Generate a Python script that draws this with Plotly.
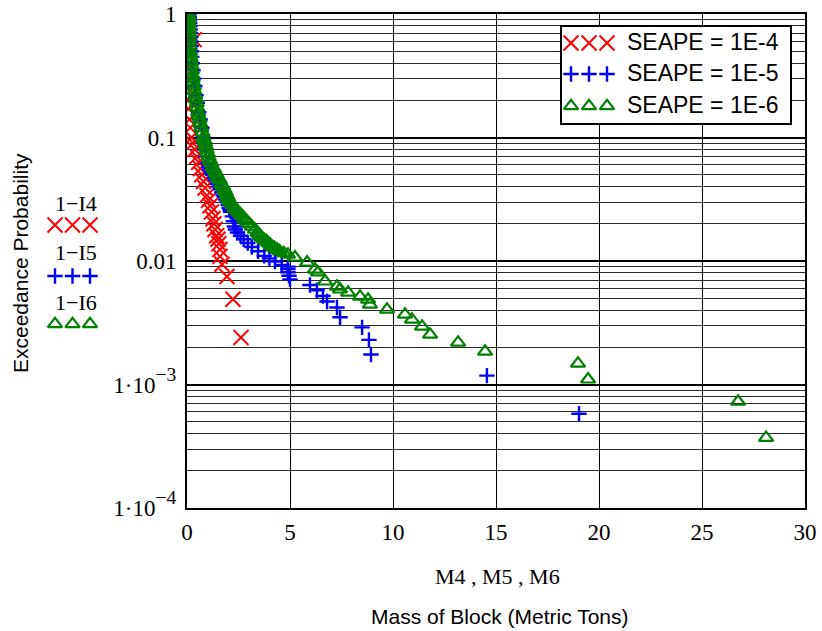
import plotly.graph_objects as go

# ---------------- data ----------------
# SEAPE = 1E-4  (red x)
m4 = [0.05, 0.07, 0.09, 0.11, 0.13, 0.35, 0.12, 0.10, 0.08, 0.06,
      0.05, 0.06, 0.08, 0.12, 0.16, 0.22, 0.29, 0.38, 0.48, 0.57,
      0.65, 0.72, 0.80, 0.88, 0.97, 1.05, 1.12, 1.19, 1.26, 1.31,
      1.36, 1.44, 1.50, 1.55, 1.60, 1.60, 1.70, 1.94, 2.23, 2.62]
p4 = [1.0, 0.9, 0.8, 0.7, 0.62, 0.62, 0.55, 0.45, 0.37, 0.3,
      0.25, 0.2, 0.17, 0.14, 0.12, 0.1, 0.09, 0.08, 0.07, 0.063,
      0.056, 0.05, 0.044, 0.039, 0.034, 0.031, 0.028, 0.025, 0.022, 0.020,
      0.018, 0.016, 0.015, 0.0138, 0.0124, 0.0109, 0.0094, 0.0075, 0.0049, 0.0024]

# SEAPE = 1E-5  (blue +)
m5 = [0.10, 0.11, 0.12, 0.13, 0.14, 0.155, 0.17, 0.18, 0.19, 0.20,
      0.21, 0.23, 0.26, 0.29, 0.33, 0.38, 0.44, 0.50, 0.57, 0.64,
      0.72, 0.78, 0.82, 0.87, 0.93, 1.00, 1.05, 1.10, 1.17, 1.25,
      1.32, 1.40, 1.48, 1.55, 1.62, 1.70, 1.76, 1.82, 1.88, 1.95,
      2.00, 2.05, 2.09, 2.12, 2.20, 2.25, 2.30, 2.35, 2.45, 2.60,
      2.75, 2.95, 3.15, 3.45, 3.75, 4.00, 4.27, 4.60, 4.90, 4.90,
      4.90, 4.95, 5.00, 5.97, 6.31, 6.60, 6.80, 7.28, 7.43, 8.50,
      8.83, 8.93, 14.56, 19.03]
p5 = [1.0, 0.95, 0.9, 0.85, 0.8, 0.75, 0.7, 0.65, 0.6, 0.55,
      0.5, 0.45, 0.4, 0.35, 0.3, 0.26, 0.22, 0.19, 0.16, 0.14,
      0.12, 0.1, 0.09, 0.08, 0.07, 0.062, 0.058, 0.055, 0.052, 0.05,
      0.047, 0.045, 0.042, 0.04, 0.038, 0.036, 0.034, 0.033, 0.0315, 0.03,
      0.0285, 0.027, 0.026, 0.025, 0.023, 0.021, 0.019, 0.018, 0.017, 0.016,
      0.015, 0.014, 0.013, 0.012, 0.011, 0.0105, 0.0099, 0.0093, 0.0090, 0.0086,
      0.0081, 0.0076, 0.0071, 0.0064, 0.0058, 0.0052, 0.0047, 0.0042, 0.0035, 0.0029,
      0.0023, 0.00175, 0.00118, 0.00058]

# SEAPE = 1E-6  (green triangles)
m6 = [0.05, 0.06, 0.07, 0.08, 0.09, 0.10, 0.11, 0.115, 0.12, 0.135,
      0.15, 0.165, 0.18, 0.20, 0.22, 0.24, 0.265, 0.28, 0.30, 0.33,
      0.36, 0.40, 0.43, 0.47, 0.50, 0.54, 0.57, 0.61, 0.65, 0.70,
      0.75, 0.80, 0.84, 0.88, 0.92, 0.96, 1.00, 1.05, 1.11, 1.18,
      1.25, 1.33, 1.39, 1.45, 1.52, 1.60, 1.68, 1.75, 1.82, 1.89,
      1.94, 1.98, 2.03, 2.09, 2.20, 2.30, 2.39, 2.48, 2.59, 2.70,
      2.80, 2.91, 3.03, 3.15, 3.30, 3.42, 3.48, 3.55, 3.62, 3.73,
      3.85, 3.95, 4.05, 4.15, 4.25, 4.38, 4.50, 4.70, 4.90, 5.24,
      5.83, 6.21, 6.36, 6.70, 7.28, 7.43, 7.82, 8.40, 8.79, 8.88,
      9.71, 10.58, 10.92, 11.41, 11.80, 13.16, 14.47, 18.98, 19.47, 26.75,
      28.11]
p6 = [1.0, 0.95, 0.9, 0.85, 0.8, 0.75, 0.7, 0.65, 0.6, 0.55,
      0.5, 0.47, 0.44, 0.41, 0.38, 0.35, 0.32, 0.3, 0.28, 0.26,
      0.24, 0.22, 0.205, 0.19, 0.175, 0.16, 0.15, 0.14, 0.13, 0.12,
      0.11, 0.1, 0.095, 0.09, 0.085, 0.08, 0.075, 0.07, 0.066, 0.062,
      0.058, 0.055, 0.052, 0.05, 0.047, 0.045, 0.042, 0.04, 0.038, 0.036,
      0.034, 0.033, 0.0315, 0.03, 0.0285, 0.027, 0.026, 0.025, 0.024, 0.023,
      0.022, 0.021, 0.02, 0.019, 0.018, 0.017, 0.0165, 0.016, 0.0155, 0.015,
      0.0145, 0.014, 0.0135, 0.013, 0.0128, 0.0124, 0.012, 0.0116, 0.0113, 0.0107,
      0.00975, 0.00855, 0.0081, 0.00684, 0.00622, 0.00589, 0.00556, 0.00516, 0.00488, 0.00445,
      0.00405, 0.00369, 0.00336, 0.00295, 0.00254, 0.00219, 0.00185, 0.00148, 0.0011, 0.000727,
      0.000371]

series_names = ["SEAPE = 1E-4", "SEAPE = 1E-5", "SEAPE = 1E-6"]
side_labels = ["1\u2212I4", "1\u2212I5", "1\u2212I6"]

x_tickvals = [0, 5, 10, 15, 20, 25, 30]
x_ticktext = ["0", "5", "10", "15", "20", "25", "30"]
y_tickvals = [1e-4, 1e-3, 1e-2, 1e-1, 1]
y_ticktext = ["1\u00b710<span style=\"font-size:28px\"><sup>\u22124</sup></span>",
              "1\u00b710<span style=\"font-size:28px\"><sup>\u22123</sup></span>",
              "0.01", "0.1", "1"]
y_minor = [k * 10.0 ** e for e in range(-4, 0) for k in range(2, 10)]

x_title = "M4 , M5 , M6"
x_title2 = "Mass of Block (Metric Tons)"
y_title = "Exceedance Probability"

# ---------------- styles ----------------
W, H = 822, 631
L, R, T, B = 187, 805, 14, 508
SERIF = "Liberation Serif"
SANS = "Liberation Sans"

styles = [
    dict(symbol="x-thin", size=15, line=dict(width=2, color="#ff0000"), color="#ff0000"),
    dict(symbol="cross-thin", size=11, line=dict(width=2.4, color="#0000ff"), color="#0000ff"),
    dict(symbol="triangle-up-open", size=12.5, line=dict(width=2.2, color="#008000"), color="#008000"),
]

fig = go.Figure()
for mx, py, name, st in zip([m4, m5, m6], [p4, p5, p6], series_names, styles):
    fig.add_trace(go.Scatter(x=mx, y=py, mode="markers", name=name, marker=st,
                             showlegend=False, xaxis="x", yaxis="y", hoverinfo="skip"))

# ------- decoration glyphs (legend box + side labels) on a pixel overlay axis -------
legend_rows = [43, 74, 106]
legend_cols = [571, 589, 607]
side_rows = [225, 276, 324]
side_cols = [55, 72.5, 90]
for i, st in enumerate(styles):
    fig.add_trace(go.Scatter(x=legend_cols, y=[legend_rows[i]] * 3, mode="markers",
                             marker=st, xaxis="x2", yaxis="y2", showlegend=False, hoverinfo="skip"))
    fig.add_trace(go.Scatter(x=side_cols, y=[side_rows[i]] * 3, mode="markers",
                             marker=st, xaxis="x2", yaxis="y2", showlegend=False, hoverinfo="skip"))

annotations = []
for i, name in enumerate(series_names):
    annotations.append(dict(x=625, y=legend_rows[i] - 1, xref="x2", yref="y2", text=name,
                            showarrow=False, xanchor="left", yanchor="middle",
                            font=dict(family=SANS, size=23, color="black")))
side_text_rows = [203, 252, 302]
for i, lab in enumerate(side_labels):
    annotations.append(dict(x=76, y=side_text_rows[i], xref="x2", yref="y2", text=lab,
                            showarrow=False, xanchor="center", yanchor="middle",
                            font=dict(family=SERIF, size=22, color="black")))
annotations.append(dict(x=20, y=263, xref="x2", yref="y2", text=y_title, textangle=-90,
                        showarrow=False, xanchor="center", yanchor="middle",
                        font=dict(family=SANS, size=21, color="black")))
annotations.append(dict(x=497, y=576, xref="x2", yref="y2", text=x_title,
                        showarrow=False, xanchor="center", yanchor="middle",
                        font=dict(family=SERIF, size=22, color="black")))
annotations.append(dict(x=500, y=616, xref="x2", yref="y2", text=x_title2,
                        showarrow=False, xanchor="center", yanchor="middle",
                        font=dict(family=SANS, size=21, color="black")))

fig.update_layout(
    width=W, height=H, autosize=False,
    margin=dict(l=0, r=0, t=0, b=0, pad=0, autoexpand=False),
    paper_bgcolor="white",
    plot_bgcolor="rgba(0,0,0,0)",
    showlegend=False,
    annotations=annotations,
    shapes=[dict(type="rect", xref="x2", yref="y2", x0=561, x1=791, y0=26, y1=124,
                 line=dict(color="black", width=2), fillcolor="white", layer="below")],
    xaxis=dict(
        domain=[L / W, R / W], range=[0, 30], anchor="y", automargin=False,
        tickmode="array", tickvals=x_tickvals, ticktext=x_ticktext,
        showgrid=True, gridcolor="black", gridwidth=1.2, zeroline=False,
        showline=True, mirror=True, linecolor="black", linewidth=2,
        ticks="", ticklabelstandoff=2,
        tickfont=dict(family=SERIF, size=23, color="black"),
    ),
    yaxis=dict(
        domain=[1 - B / H, 1 - T / H], type="log", range=[-4, 0], anchor="x", automargin=False,
        tickmode="array", tickvals=y_tickvals, ticktext=y_ticktext,
        showgrid=True, gridcolor="black", gridwidth=2, zeroline=False,
        showline=True, mirror=True, linecolor="black", linewidth=2,
        ticks="", ticklabelstandoff=4,
        tickfont=dict(family=SERIF, size=23, color="black"),
        minor=dict(tickmode="array", tickvals=y_minor, showgrid=True,
                   gridcolor="#2a2a2a", gridwidth=1.2, ticks=""),
    ),
    xaxis2=dict(domain=[0, 1], range=[0, W], anchor="y2", visible=False,
                fixedrange=True, automargin=False),
    yaxis2=dict(domain=[0, 1], range=[H, 0], anchor="x2", visible=False,
                fixedrange=True, automargin=False),
)

fig.write_html("out.html")
